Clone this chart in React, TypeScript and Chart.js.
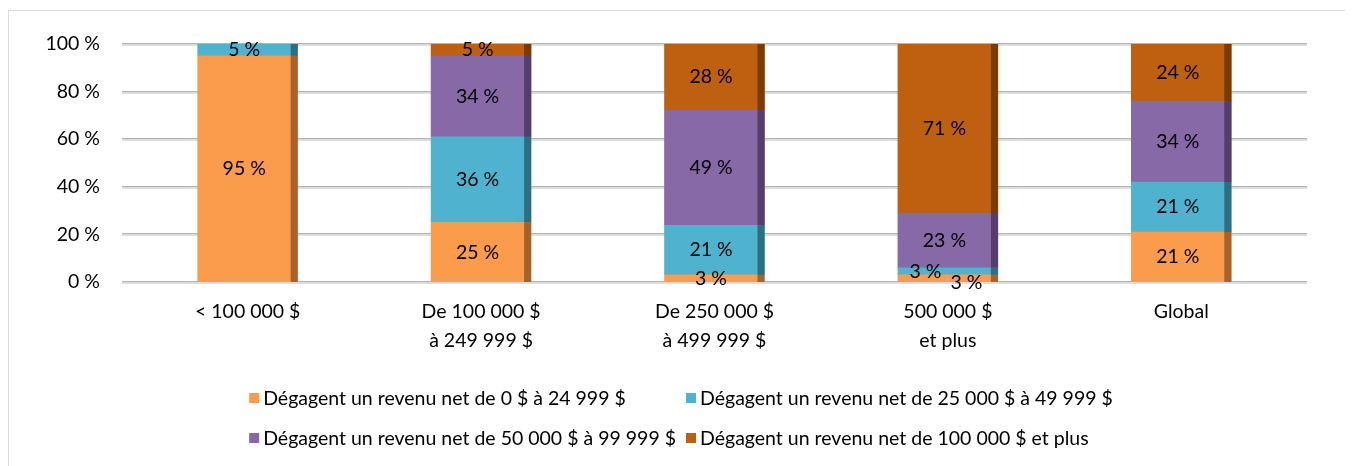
import React, { useEffect, useRef } from "react";
import { Chart, registerables } from "chart.js";

Chart.register(...registerables);

const categories: string[][] = [
  ["< 100 000 $"],
  ["De 100 000 $", "à 249 999 $"],
  ["De 250 000 $", "à 499 999 $"],
  ["500 000 $", "et plus"],
  ["Global"],
];

const seriesLabels = [
  "Dégagent un revenu net de 0 $ à 24 999 $",
  "Dégagent un revenu net de 25 000 $ à 49 999 $",
  "Dégagent un revenu net de 50 000 $ à 99 999 $",
  "Dégagent un revenu net de 100 000 $ et plus",
];

const revenu0a25k = [95, 25, 3, 3, 21];
const revenu25a50k = [5, 36, 21, 3, 21];
const revenu50a100k = [0, 34, 49, 23, 34];
const revenu100kPlus = [0, 5, 28, 71, 24];

const yTicks = [0, 20, 40, 60, 80, 100];

const FONT = "Lato";
const FONT_SIZE = 19.5;

const frontColors = ["#FA9C4B", "#4FB3CF", "#8669A6", "#BF5F10"];
const sideColors = ["#A6612D", "#2E6E7E", "#533F69", "#783A06"];

const SIDE = 7;

export default function App() {
  const canvasRef = useRef<HTMLCanvasElement | null>(null);

  useEffect(() => {
    const canvas = canvasRef.current;
    if (!canvas) return;
    const raw = [revenu0a25k, revenu25a50k, revenu50a100k, revenu100kPlus];
    const totals = categories.map((_, i) => raw.reduce((a, s) => a + s[i], 0));

    const gridPlugin = {
      id: "gridLines",
      beforeDatasetsDraw(chart: any) {
        const { ctx, chartArea, scales } = chart;
        ctx.save();
        yTicks.forEach((v) => {
          const y = Math.round(scales.y.getPixelForValue(v));
          ctx.fillStyle = "#b4b4b4";
          ctx.fillRect(chartArea.left - 9, y - 1, chartArea.right - chartArea.left + 18, 1.5);
          ctx.fillStyle = "#dedede";
          ctx.fillRect(chartArea.left - 9, y + 0.5, chartArea.right - chartArea.left + 18, 1.5);
        });
        ctx.restore();
      },
    };

    const labelOffsets: Record<string, [number, number]> = {
      "0-3": [22, 4],
      "1-3": [-19, 0],
    };

    const barPlugin = {
      id: "barDecor",
      afterDatasetsDraw(chart: any) {
        const { ctx } = chart;
        ctx.save();
        chart.data.datasets.forEach((ds: any, di: number) => {
          const meta = chart.getDatasetMeta(di);
          meta.data.forEach((el: any, i: number) => {
            if (!raw[di][i]) return;
            const top = Math.min(el.y, el.base);
            const h = Math.abs(el.base - el.y);
            ctx.fillStyle = sideColors[di];
            ctx.fillRect(el.x + el.width / 2 - SIDE, top, SIDE, h);
          });
        });
        ctx.font = `${FONT_SIZE}px ${FONT}`;
        ctx.fillStyle = "#000";
        ctx.textAlign = "center";
        ctx.textBaseline = "middle";
        chart.data.datasets.forEach((ds: any, di: number) => {
          const meta = chart.getDatasetMeta(di);
          meta.data.forEach((el: any, i: number) => {
            const v = raw[di][i];
            if (!v) return;
            const off = labelOffsets[`${di}-${i}`] || [0, 0];
            const x = el.x - SIDE / 2 + off[0];
            const y = (el.y + el.base) / 2 + off[1];
            ctx.fillText(`${v} %`, x, y);
          });
        });
        ctx.restore();
      },
    };

    const legendPlugin = {
      id: "customLegend",
      afterDraw(chart: any) {
        const { ctx, width } = chart;
        ctx.save();
        ctx.font = `${FONT_SIZE}px ${FONT}`;
        ctx.textBaseline = "middle";
        ctx.textAlign = "left";
        const box = 10;
        const textGap = 4;
        const colGap = 10;
        const w = seriesLabels.map((l) => ctx.measureText(l).width);
        const col1 = box + textGap + Math.max(w[0], w[2]) + colGap;
        const col2 = box + textGap + Math.max(w[1], w[3]);
        const start = width / 2 - (col1 + col2) / 2 + 3;
        const rows = [387, 427];
        seriesLabels.forEach((label, k) => {
          const col = k % 2;
          const row = Math.floor(k / 2);
          const x = start + (col ? col1 : 0);
          const y = rows[row];
          ctx.fillStyle = frontColors[k];
          ctx.fillRect(x, y - box / 2, box, box);
          ctx.fillStyle = "#000";
          ctx.fillText(label, x + box + textGap, y + 1);
        });
        ctx.restore();
      },
    };

    const chart = new Chart(canvas, {
      type: "bar",
      data: {
        labels: categories,
        datasets: raw.map((s, di) => ({
          label: seriesLabels[di],
          data: s.map((v, i) => (v / totals[i]) * 100),
          backgroundColor: frontColors[di],
          borderWidth: 0,
          barThickness: 100,
        })),
      },
      options: {
        responsive: false,
        animation: false,
        events: [],
        layout: { padding: { left: 0, right: 49, top: 33, bottom: 0 } },
        plugins: {
          legend: { display: false },
          tooltip: { enabled: false },
          title: { display: false },
        },
        scales: {
          x: {
            stacked: true,
            grid: { display: false, drawTicks: false },
            border: { display: false },
            ticks: {
              color: "#000",
              padding: 16,
              font: { family: FONT, size: FONT_SIZE, lineHeight: 1.45 },
              maxRotation: 0,
              autoSkip: false,
            },
            afterFit: (s: any) => {
              s.height = 189;
            },
          },
          y: {
            stacked: true,
            min: 0,
            max: 100,
            grid: { display: false, drawTicks: false },
            border: { display: false },
            afterBuildTicks: (s: any) => {
              s.ticks = yTicks.map((v) => ({ value: v }));
            },
            ticks: {
              color: "#000",
              padding: 31,
              font: { family: FONT, size: FONT_SIZE },
              callback: (v: any) => `${v} %`,
            },
            afterFit: (s: any) => {
              s.width = 122;
              s.paddingTop = 0;
              s.paddingBottom = 0;
            },
          },
        },
      },
      plugins: [
        {
          id: "fixArea",
          afterLayout(chart: any) {
            const top = 33;
            const ca = chart.chartArea;
            if (Math.abs(ca.top - top) > 0.5) {
              const y = chart.scales.y;
              y.top = top;
              y.height = y.bottom - top;
              ca.top = top;
              ca.height = ca.bottom - top;
              y.configure();
              y._startPixel = y.bottom;
            }
          },
        },
        gridPlugin,
        barPlugin,
        legendPlugin,
      ],
    });
    return () => chart.destroy();
  }, []);

  return (
    <div
      style={{
        marginTop: 2,
        width: 1338,
        height: 470,
        border: "1px solid #d9d9d9",
        position: "relative",
        background: "#fff",
      }}
    >
      <canvas
        ref={canvasRef}
        width={1338}
        height={460}
        style={{ display: "block", width: 1338, height: 460 }}
      />
    </div>
  );
}
